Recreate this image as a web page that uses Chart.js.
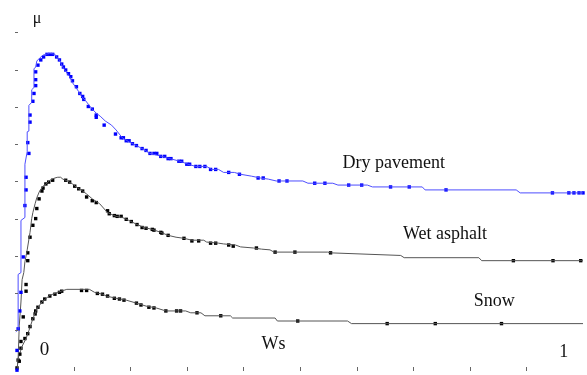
<!DOCTYPE html>
<html>
<head>
<meta charset="utf-8">
<script src="https://cdn.jsdelivr.net/npm/chart.js@4/dist/chart.umd.min.js"></script>
<style>
  html, body { margin: 0; padding: 0; background: #fff; }
  #wrap { width: 587px; height: 375px; }
</style>
</head>
<body>
<div id="wrap"><canvas id="out" width="587" height="375"></canvas></div>
<script>
// friction coefficient mu vs slip Ws
// dry pavement - line
const dryX = [-0.002,-0.002,0.002,0.002,0.007,0.007,0.014,0.014,0.018,0.018,0.021,0.021,0.026,0.026,0.030,0.030,0.033,0.035,0.040,0.046,0.051,0.058,0.067,0.070,0.075,0.079,0.082,0.088,0.093,0.098,0.104,0.109,0.114,0.121,0.126,0.133,0.140,0.147,0.156,0.167,0.175,0.186,0.198,0.211,0.221,0.235,0.256,0.270,0.288,0.302,0.316,0.335,0.344,0.356,0.365,0.384,0.395,0.414,0.430,0.444,0.458,0.505,0.514,0.558,0.567,0.619,0.628,0.716,0.721,0.882,0.889,1.0];
const dryY = [-0.009,0.096,0.102,0.250,0.255,0.395,0.403,0.546,0.580,0.633,0.635,0.704,0.712,0.746,0.752,0.802,0.807,0.823,0.831,0.839,0.841,0.844,0.841,0.834,0.826,0.812,0.804,0.791,0.781,0.765,0.752,0.741,0.728,0.717,0.707,0.694,0.683,0.675,0.662,0.651,0.638,0.617,0.606,0.596,0.588,0.575,0.567,0.561,0.554,0.546,0.540,0.540,0.532,0.532,0.524,0.524,0.519,0.514,0.509,0.506,0.501,0.501,0.495,0.495,0.490,0.490,0.485,0.485,0.477,0.477,0.469,0.469];
// dry pavement - measured points
const dryMarkX = [0,0,0.002,0.005,0.007,0.011,0.014,0.016,0.016,0.021,0.019,0.023,0.023,0.028,0.030,0.033,0.033,0.033,0.037,0.042,0.047,0.053,0.058,0.063,0.070,0.075,0.079,0.082,0.086,0.091,0.095,0.098,0.105,0.111,0.116,0.118,0.126,0.133,0.140,0.140,0.154,0.174,0.184,0.188,0.193,0.198,0.204,0.211,0.221,0.228,0.235,0.242,0.247,0.254,0.261,0.267,0.272,0.286,0.291,0.300,0.305,0.316,0.323,0.332,0.342,0.351,0.374,0.393,0.426,0.435,0.463,0.477,0.526,0.544,0.586,0.609,0.660,0.693,0.758,0.946,0.975,0.984,0.993,1.0];
const dryMarkY = [-0.007,0.046,0.104,0.152,0.202,0.297,0.435,0.477,0.511,0.575,0.604,0.659,0.678,0.715,0.736,0.757,0.773,0.794,0.812,0.826,0.834,0.841,0.841,0.841,0.834,0.826,0.815,0.807,0.799,0.789,0.781,0.770,0.754,0.736,0.728,0.720,0.701,0.694,0.678,0.672,0.651,0.627,0.617,0.617,0.609,0.609,0.601,0.596,0.588,0.583,0.575,0.575,0.575,0.567,0.567,0.561,0.561,0.554,0.554,0.546,0.546,0.540,0.540,0.540,0.532,0.532,0.524,0.519,0.509,0.509,0.501,0.501,0.495,0.495,0.490,0.490,0.485,0.485,0.477,0.469,0.469,0.469,0.469,0.469];

// wet asphalt - line
const wetX = [0,0.002,0.004,0.007,0.009,0.012,0.014,0.018,0.023,0.026,0.028,0.032,0.035,0.040,0.046,0.053,0.058,0.067,0.072,0.077,0.081,0.089,0.098,0.107,0.116,0.123,0.133,0.146,0.160,0.175,0.186,0.198,0.212,0.225,0.239,0.254,0.267,0.281,0.295,0.309,0.330,0.335,0.356,0.365,0.386,0.395,0.418,0.432,0.447,0.454,0.549,0.554,0.678,0.684,0.816,0.821,1.0];
const wetY = [-0.007,0.025,0.112,0.176,0.236,0.255,0.284,0.316,0.363,0.400,0.416,0.440,0.456,0.474,0.487,0.495,0.503,0.509,0.511,0.511,0.506,0.501,0.493,0.482,0.474,0.466,0.453,0.440,0.416,0.406,0.403,0.395,0.384,0.376,0.371,0.363,0.355,0.350,0.347,0.342,0.342,0.337,0.334,0.332,0.329,0.324,0.321,0.318,0.316,0.310,0.310,0.308,0.301,0.295,0.295,0.287,0.287];
// wet asphalt - measured points
const wetMarkX = [0,0.004,0.005,0.007,0.011,0.016,0.016,0.019,0.019,0.023,0.028,0.033,0.035,0.039,0.044,0.046,0.051,0.056,0.063,0.086,0.093,0.102,0.109,0.116,0.123,0.133,0.140,0.160,0.163,0.172,0.177,0.184,0.193,0.202,0.212,0.221,0.228,0.239,0.242,0.254,0.256,0.267,0.295,0.309,0.321,0.342,0.351,0.374,0.382,0.423,0.456,0.491,0.554,0.877,0.947,0.996];
const wetMarkY = [-0.001,0.017,0.036,0.070,0.136,0.205,0.223,0.287,0.308,0.350,0.382,0.400,0.427,0.453,0.474,0.482,0.493,0.498,0.503,0.503,0.498,0.487,0.480,0.474,0.458,0.448,0.443,0.421,0.413,0.408,0.406,0.406,0.398,0.392,0.384,0.376,0.374,0.371,0.369,0.363,0.361,0.355,0.347,0.340,0.340,0.334,0.334,0.329,0.326,0.321,0.310,0.310,0.308,0.287,0.287,0.287];

// snow - line
const snowX = [0,0.002,0.009,0.016,0.021,0.028,0.035,0.044,0.058,0.072,0.088,0.128,0.137,0.151,0.158,0.175,0.193,0.211,0.228,0.246,0.263,0.298,0.307,0.325,0.332,0.377,0.381,0.456,0.460,0.584,0.591,1.0];
const snowY = [-0.007,0.025,0.057,0.078,0.099,0.131,0.157,0.176,0.194,0.202,0.210,0.210,0.202,0.197,0.192,0.186,0.181,0.173,0.165,0.160,0.152,0.152,0.147,0.147,0.139,0.139,0.133,0.133,0.125,0.125,0.118,0.118];
// snow - measured points
const snowMarkX = [0.002,0.007,0.014,0.019,0.023,0.028,0.032,0.033,0.037,0.044,0.049,0.058,0.067,0.075,0.079,0.114,0.123,0.142,0.151,0.160,0.172,0.181,0.189,0.211,0.219,0.233,0.242,0.263,0.282,0.289,0.318,0.360,0.496,0.654,0.739,0.856];
const snowMarkY = [0.020,0.052,0.078,0.091,0.110,0.131,0.144,0.152,0.162,0.176,0.184,0.192,0.197,0.202,0.205,0.207,0.207,0.199,0.197,0.192,0.186,0.184,0.181,0.173,0.168,0.162,0.160,0.152,0.152,0.152,0.147,0.139,0.125,0.118,0.118,0.118];

const tickValues = [0.1,0.2,0.3,0.4,0.5,0.6,0.7,0.8,0.9];

// text written on the plot, anchored in data units (left, baseline)
const notes = [
  { text: "Dry pavement", x: 0.575, y: 0.535, font: "18px 'Liberation Serif'" },
  { text: "Wet asphalt", x: 0.682, y: 0.345, font: "18px 'Liberation Serif'" },
  { text: "Snow", x: 0.807, y: 0.165, font: "18px 'Liberation Serif'" },
  { text: "Ws", x: 0.432, y: 0.049, font: "18px 'Liberation Serif'" },
  { text: "0", x: 0.040, y: 0.033, font: "19px 'Liberation Serif'" },
  { text: "1", x: 0.958, y: 0.028, font: "18px 'Liberation Serif'" },
  { text: "\u03bc", x: 0.028, y: 0.926, font: "16px 'Liberation Serif'" }
];

function pts(xs, ys) {
  return xs.map((x, i) => ({ x: x, y: ys[i] }));
}

function lineSet(xs, ys, color) {
  return {
    data: pts(xs, ys),
    showLine: true,
    borderColor: color,
    borderWidth: 1,
    pointRadius: 0,
    tension: 0,
    fill: false,
    clip: false
  };
}

function markSet(xs, ys, color) {
  return {
    data: pts(xs, ys),
    showLine: false,
    pointStyle: "rect",
    pointRadius: 2.4,
    pointBackgroundColor: color,
    pointBorderWidth: 0,
    clip: false
  };
}

const decorPlugin = {
  id: "decor",
  afterDraw(chart) {
    const ctx = chart.ctx;
    const xs = chart.scales.x;
    const ys = chart.scales.y;
    const left = xs.getPixelForValue(0);
    const bottom = chart.chartArea.bottom;
    ctx.save();
    ctx.strokeStyle = "#666";
    ctx.lineWidth = 1;
    ctx.beginPath();
    for (const v of tickValues) {
      const py = Math.round(ys.getPixelForValue(v)) + 0.5;
      ctx.moveTo(left - 2, py);
      ctx.lineTo(left + 1, py);
      const px = Math.round(xs.getPixelForValue(v)) + 0.5;
      ctx.moveTo(px, bottom - 4);
      ctx.lineTo(px, bottom);
    }
    ctx.stroke();
    ctx.fillStyle = "#111";
    ctx.textBaseline = "alphabetic";
    ctx.textAlign = "left";
    for (const n of notes) {
      ctx.font = n.font;
      ctx.fillText(n.text, xs.getPixelForValue(n.x), ys.getPixelForValue(n.y));
    }
    ctx.restore();
  }
};

const canvasCtx = document.getElementById("out").getContext("2d");
window.chart = new Chart(canvasCtx, {
  type: "scatter",
  data: {
    datasets: [
      lineSet(dryX, dryY, "#4d4dff"),
      markSet(dryMarkX, dryMarkY, "#0000ff"),
      lineSet(wetX, wetY, "#555"),
      markSet(wetMarkX, wetMarkY, "#000"),
      lineSet(snowX, snowY, "#555"),
      markSet(snowMarkX, snowMarkY, "#000")
    ]
  },
  options: {
    responsive: false,
    animation: false,
    devicePixelRatio: 1,
    layout: { padding: { left: 17, right: 0, top: 0, bottom: 2 } },
    plugins: { legend: { display: false }, tooltip: { enabled: false } },
    scales: {
      x: { type: "linear", min: 0, max: 1, display: false },
      y: { type: "linear", min: -0.00925, max: 0.9762, display: false }
    }
  },
  plugins: [decorPlugin]
});
</script>
</body>
</html>
